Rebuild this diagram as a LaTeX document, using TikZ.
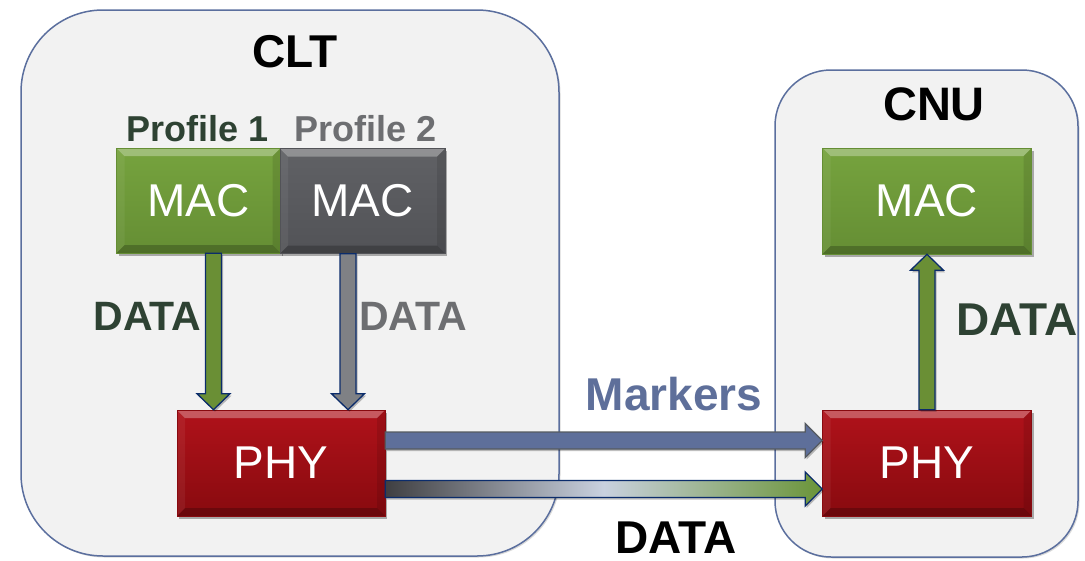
\documentclass[tikz,border=0pt]{standalone}
\usepackage{fontspec}
\setmainfont{Liberation Sans}
\usetikzlibrary{calc,shadows}
\definecolor{contfill}{HTML}{F2F2F2}
\definecolor{contline}{HTML}{5B6F9E}
\definecolor{dkgreen}{HTML}{2E4233}
\definecolor{txtgray}{HTML}{6D6E71}
\definecolor{markblue}{HTML}{5E6F9A}
\definecolor{boxgreen}{HTML}{6E9A3A}
\definecolor{boxgreenT}{HTML}{76A33E}
\definecolor{boxgreenB}{HTML}{658E34}
\definecolor{boxgray}{HTML}{5B5C60}
\definecolor{boxgrayT}{HTML}{606165}
\definecolor{boxgrayB}{HTML}{525357}
\definecolor{redT}{HTML}{B0121A}
\definecolor{redB}{HTML}{880A0F}
\definecolor{arrgreen}{HTML}{6A8F35}
\definecolor{arrgray}{HTML}{7F8185}
\definecolor{navy}{HTML}{0B2C6B}
\definecolor{markedge}{HTML}{555A60}
\definecolor{gradL}{HTML}{3F3F42}
\definecolor{gradM}{HTML}{C9D1DF}
\definecolor{gradR}{HTML}{6A9438}
\newcommand\varrow[4]{%
  \draw[#1] ($(#2)+(-8,0)$) -- ($(#3)+(-8,{-16*#4})$) -- ($(#3)+(-16.5,{-16*#4})$) -- (#3)
    -- ($(#3)+(16.5,{-16*#4})$) -- ($(#3)+(8,{-16*#4})$) -- ($(#2)+(8,0)$) -- cycle;}
\newcommand\harrow[3]{%
  \draw[#1] ($(#2)+(0,-8.5)$) -- ($(#3)+(-17,-8.5)$) -- ($(#3)+(-17,-17)$) -- (#3)
    -- ($(#3)+(-17,17)$) -- ($(#3)+(-17,8.5)$) -- ($(#2)+(0,8.5)$) -- cycle;}
\tikzset{
  container/.style={draw=contline, line width=1.5pt, fill=contfill, inner sep=0pt,
    drop shadow={shadow xshift=1.5pt, shadow yshift=-1.5pt, opacity=.15, fill=black}},
  bevel/.style={path picture={
    \coordinate (bnw) at (path picture bounding box.north west);
    \coordinate (bne) at (path picture bounding box.north east);
    \coordinate (bsw) at (path picture bounding box.south west);
    \coordinate (bse) at (path picture bounding box.south east);
    \fill[white,opacity=.3] (bnw) -- (bne) -- ($(bne)+(-8pt,-8pt)$) -- ($(bnw)+(8pt,-8pt)$) -- cycle;
    \fill[black,opacity=.22] (bsw) -- (bse) -- ($(bse)+(-8pt,8pt)$) -- ($(bsw)+(8pt,8pt)$) -- cycle;
    \fill[black,opacity=.1] (bne) -- (bse) -- ($(bse)+(-8pt,8pt)$) -- ($(bne)+(-8pt,-8pt)$) -- cycle;
    \fill[white,opacity=.06] (bnw) -- (bsw) -- ($(bsw)+(8pt,8pt)$) -- ($(bnw)+(8pt,-8pt)$) -- cycle;
  }},
  blk/.style={inner sep=0pt, text=white, font=\fontsize{46}{46}\selectfont, bevel,
    drop shadow={shadow xshift=2pt, shadow yshift=-2.5pt, opacity=.3, fill=black}},
  macgreen/.style={blk, top color=boxgreenT, bottom color=boxgreenB, draw=boxgreenB, line width=.6pt},
  macgray/.style={blk, top color=boxgrayT, bottom color=boxgrayB, draw=boxgrayB, line width=.6pt},
  phybox/.style={blk, top color=redT, bottom color=redB, draw=redB, line width=.6pt},
  lbl/.style={font=\bfseries\fontsize{46}{46}\selectfont, anchor=base, inner sep=0pt},
  arrshadow/.style={drop shadow={shadow xshift=1.5pt, shadow yshift=-2pt, opacity=.25, fill=black}},
  greenarr/.style={fill=arrgreen, draw=navy, line width=1.3pt, arrshadow},
  grayarr/.style={fill=arrgray, draw=navy, line width=1.3pt, arrshadow},
  markarr/.style={fill=markblue, draw=markedge, line width=1.3pt, arrshadow},
  dataarr/.style={left color=gradL, right color=gradR, middle color=gradM, draw=navy, line width=1.3pt, arrshadow},
}
\begin{document}
\begin{tikzpicture}[x=1pt,y=-1pt]
\useasboundingbox (0,0) rectangle (1085,560);
% containers
\node[container, rounded corners=82pt, minimum width=538pt, minimum height=546pt] (clt) at (290,283) {};
\node[container, rounded corners=56pt, minimum width=303pt, minimum height=487pt] (cnu) at (926.5,313.5) {};
% titles
\node[lbl] (cltlbl) at (295,67) {CLT};
\node[lbl, font=\bfseries\fontsize{47}{47}\selectfont] (cnulbl) at (934,120) {CNU};
\node[lbl, font=\bfseries\fontsize{36}{36}\selectfont, text=dkgreen] (p1) at (198,141) {Profile 1};
\node[lbl, font=\bfseries\fontsize{36}{36}\selectfont, text=txtgray] (p2) at (365.5,141) {Profile 2};
% boxes
\node[macgreen, minimum width=164pt, minimum height=105pt] (mac1) at (198.5,200.5) {MAC};
\node[macgray, minimum width=165pt, minimum height=105pt] (mac1b) at (362.5,201) {MAC};
\node[phybox, minimum width=208pt, minimum height=106pt] (phy1) at (281,463) {PHY};
\node[macgreen, minimum width=209pt, minimum height=106pt] (mac2) at (927,201) {MAC};
\node[phybox, minimum width=209pt, minimum height=106pt] (phy2) at (927,463) {PHY};
% arrow coordinates
\coordinate (g1t) at ($(phy1.north)+(-67.5,0)$);
\coordinate (g1s) at (g1t |- mac1.south);
\coordinate (g2t) at ($(phy1.north)+(67,0)$);
\coordinate (g2s) at (g2t |- mac1b.south);
\coordinate (ms) at ($(phy1.east)+(0,-22.5)$);
\coordinate (mt) at (ms -| phy2.west);
\coordinate (ds) at ($(phy1.east)+(0,26)$);
\coordinate (dt) at (ds -| phy2.west);
% arrows
\varrow{greenarr}{g1s}{g1t}{1}
\varrow{grayarr}{g2s}{g2t}{1}
\varrow{greenarr}{phy2.north}{mac2.south}{-1}
\harrow{markarr}{ms}{mt}
\harrow{dataarr}{ds}{dt}
% labels
\node[lbl, font=\bfseries\fontsize{41}{41}\selectfont, text=dkgreen] (d1) at (147.5,330) {DATA};
\node[lbl, font=\bfseries\fontsize{41}{41}\selectfont, text=txtgray] (d2) at (413,330) {DATA};
\node[lbl, text=markblue] (mk) at (674,410) {Markers};
\node[lbl] (d3) at (676,553) {DATA};
\node[lbl, text=dkgreen] (d4) at (1017,335) {DATA};
\end{tikzpicture}
\end{document}
